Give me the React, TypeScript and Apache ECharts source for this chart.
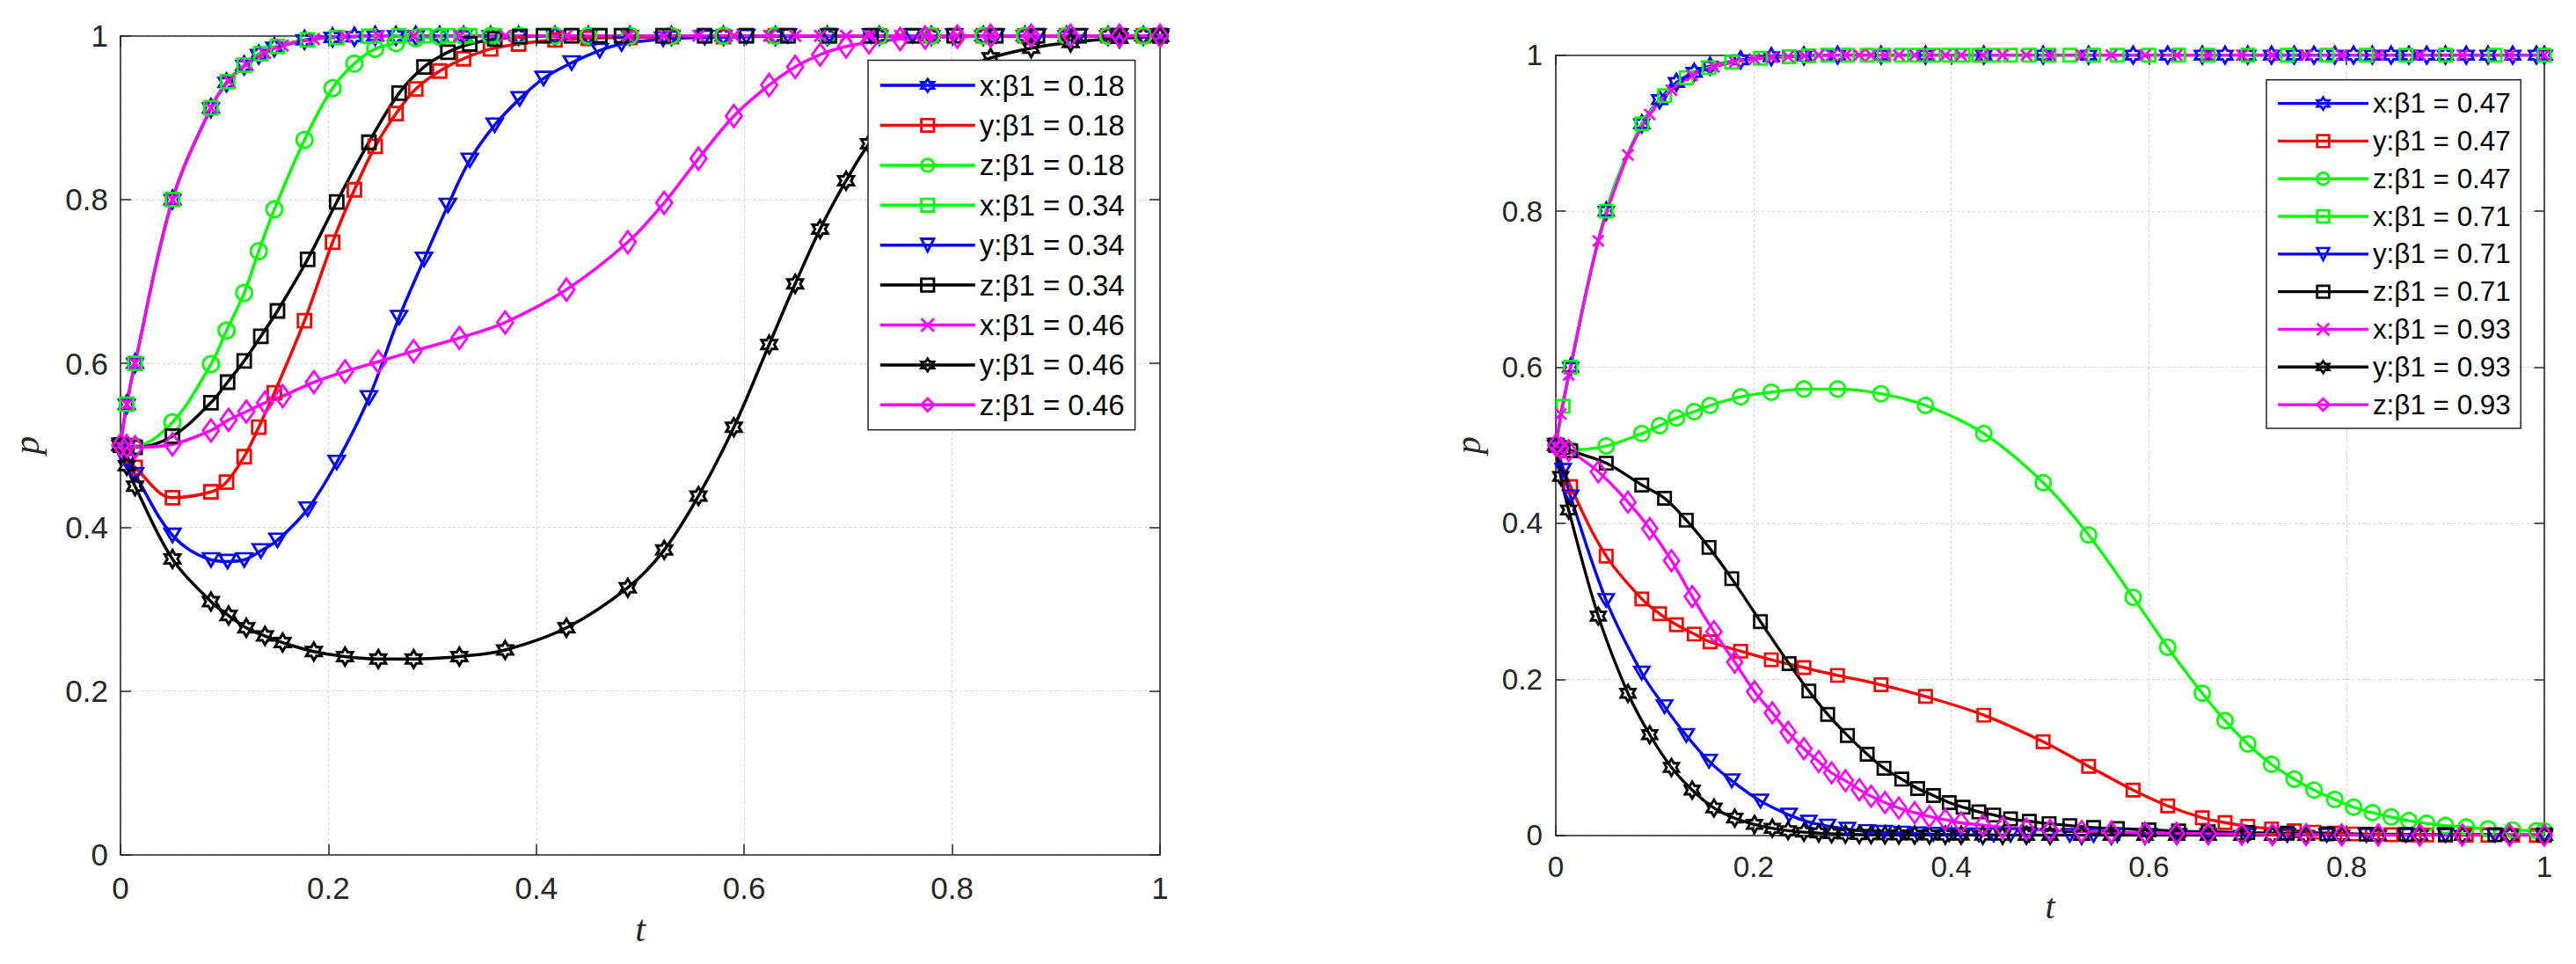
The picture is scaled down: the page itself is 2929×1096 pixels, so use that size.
import React, { useEffect, useRef } from "react";
import * as echarts from "echarts";

const t018 = [0, 0.006, 0.014, 0.05, 0.087, 0.102, 0.119, 0.133, 0.148, 0.177, 0.204, 0.225, 0.245, 0.265, 0.284, 0.307, 0.33, 0.356, 0.383, 0.418, 0.45, 0.49, 0.53, 0.58, 0.63, 0.68, 0.73, 0.78, 0.83, 0.87, 0.91, 0.95, 0.984, 1.0];
const x018 = [0.5, 0.55, 0.6, 0.8, 0.912, 0.943, 0.964, 0.977, 0.986, 0.995, 0.998, 0.999, 1, 1, 1, 1, 1, 1, 1, 1, 1, 1, 1, 1, 1, 1, 1, 1, 1, 1, 1, 1, 1, 1];
const y018 = [0.5, 0.487, 0.473, 0.436, 0.443, 0.455, 0.486, 0.522, 0.564, 0.652, 0.748, 0.812, 0.865, 0.905, 0.935, 0.957, 0.972, 0.984, 0.99, 0.995, 0.997, 0.998, 0.999, 0.999, 1, 1, 1, 1, 1, 1, 1, 1, 1, 1];
const z018 = [0.5, 0.499, 0.499, 0.528, 0.599, 0.64, 0.686, 0.737, 0.788, 0.873, 0.936, 0.966, 0.984, 0.991, 0.997, 0.999, 1, 1, 1, 1, 1, 1, 1, 1, 1, 1, 1, 1, 1, 1, 1, 1, 1, 1];

const t034 = [0, 0.006, 0.014, 0.05, 0.087, 0.103, 0.119, 0.135, 0.151, 0.18, 0.208, 0.239, 0.268, 0.292, 0.315, 0.336, 0.36, 0.384, 0.407, 0.434, 0.461, 0.482, 0.522, 0.562, 0.602, 0.642, 0.682, 0.722, 0.762, 0.802, 0.842, 0.882, 0.922, 0.961, 1.0];
const x034 = [0.5, 0.55, 0.6, 0.8, 0.912, 0.944, 0.964, 0.978, 0.987, 0.995, 0.998, 0.9995, 1, 1, 1, 1, 1, 1, 1, 1, 1, 1, 1, 1, 1, 1, 1, 1, 1, 1, 1, 1, 1, 1, 1];
const y034 = [0.5, 0.48, 0.464, 0.39, 0.36, 0.358, 0.36, 0.371, 0.384, 0.422, 0.479, 0.558, 0.656, 0.727, 0.793, 0.848, 0.891, 0.923, 0.948, 0.967, 0.982, 0.99, 0.996, 0.998, 0.999, 1, 1, 1, 1, 1, 1, 1, 1, 1, 1];
const z034 = [0.5, 0.499, 0.4975, 0.511, 0.552, 0.577, 0.603, 0.633, 0.664, 0.727, 0.797, 0.87, 0.93, 0.962, 0.98, 0.99, 0.996, 0.999, 1, 1, 1, 1, 1, 1, 1, 1, 1, 1, 1, 1, 1, 1, 1, 1, 1];

const t046 = [0, 0.006, 0.014, 0.05, 0.087, 0.104, 0.121, 0.139, 0.156, 0.186, 0.216, 0.248, 0.282, 0.326, 0.37, 0.429, 0.488, 0.523, 0.556, 0.59, 0.624, 0.649, 0.673, 0.698, 0.72, 0.75, 0.774, 0.805, 0.837, 0.876, 0.914, 0.961, 1.0];
const x046 = [0.5, 0.55, 0.6, 0.8, 0.912, 0.945, 0.965, 0.979, 0.988, 0.996, 0.999, 1, 1, 1, 1, 1, 1, 1, 1, 1, 1, 1, 1, 1, 1, 1, 1, 1, 1, 1, 1, 1, 1];
const y046 = [0.5, 0.475, 0.45, 0.361, 0.309, 0.292, 0.277, 0.267, 0.259, 0.248, 0.242, 0.239, 0.239, 0.242, 0.25, 0.277, 0.326, 0.372, 0.438, 0.522, 0.623, 0.697, 0.764, 0.823, 0.868, 0.91, 0.935, 0.956, 0.973, 0.985, 0.992, 0.997, 0.999];
const z046 = [0.5, 0.499, 0.4975, 0.501, 0.518, 0.531, 0.541, 0.552, 0.56, 0.577, 0.59, 0.602, 0.615, 0.631, 0.65, 0.69, 0.748, 0.796, 0.85, 0.902, 0.94, 0.962, 0.977, 0.987, 0.992, 0.996, 0.998, 0.999, 1, 1, 1, 1, 1];

// ---- right panel: beta1 = 0.47 / 0.71 / 0.93
const t047 = [0, 0.015, 0.051, 0.087, 0.105, 0.122, 0.14, 0.156, 0.187, 0.218, 0.251, 0.285, 0.329, 0.374, 0.433, 0.493, 0.539, 0.584, 0.619, 0.654, 0.677, 0.7, 0.724, 0.747, 0.767, 0.788, 0.807, 0.826, 0.845, 0.863, 0.881, 0.9, 0.921, 0.943, 0.968, 0.992, 1.0];
const x047 = [0.5, 0.6, 0.8, 0.912, 0.943, 0.965, 0.978, 0.986, 0.994, 0.998, 0.999, 1, 1, 1, 1, 1, 1, 1, 1, 1, 1, 1, 1, 1, 1, 1, 1, 1, 1, 1, 1, 1, 1, 1, 1, 1, 1];
const y047 = [0.5, 0.447, 0.358, 0.303, 0.284, 0.27, 0.258, 0.248, 0.236, 0.225, 0.215, 0.205, 0.193, 0.178, 0.154, 0.12, 0.0885, 0.058, 0.0377, 0.0225, 0.0163, 0.0116, 0.0082, 0.0059, 0.004, 0.0027, 0.0018, 0.0012, 0.0008, 0.0005, 0.0004, 0.0003, 0.0002, 0.0001, 0.0001, 0, 0];
const z047 = [0.5, 0.494, 0.499, 0.515, 0.525, 0.535, 0.543, 0.551, 0.562, 0.568, 0.572, 0.572, 0.566, 0.551, 0.515, 0.452, 0.385, 0.305, 0.241, 0.182, 0.147, 0.117, 0.091, 0.072, 0.058, 0.046, 0.036, 0.029, 0.0235, 0.0187, 0.0154, 0.0125, 0.0106, 0.0082, 0.0068, 0.0059, 0.0055];

const t071 = [0, 0.0074, 0.015, 0.051, 0.087, 0.11, 0.132, 0.155, 0.178, 0.207, 0.236, 0.256, 0.275, 0.295, 0.315, 0.332, 0.35, 0.366, 0.382, 0.398, 0.412, 0.428, 0.443, 0.46, 0.479, 0.499, 0.52, 0.544, 0.568, 0.6, 0.63, 0.66, 0.7, 0.74, 0.78, 0.82, 0.86, 0.9, 0.95, 1.0];
const x071 = [0.5, 0.55, 0.6, 0.8, 0.912, 0.948, 0.971, 0.984, 0.991, 0.996, 0.998, 0.999, 1, 1, 1, 1, 1, 1, 1, 1, 1, 1, 1, 1, 1, 1, 1, 1, 1, 1, 1, 1, 1, 1, 1, 1, 1, 1, 1, 1];
const y071 = [0.5, 0.468, 0.434, 0.301, 0.208, 0.165, 0.128, 0.095, 0.07, 0.044, 0.026, 0.017, 0.012, 0.008, 0.005, 0.004, 0.003, 0.002, 0.0015, 0.001, 0.0008, 0.0006, 0.0005, 0.0004, 0.0003, 0.0002, 0.0002, 0.0001, 0.0001, 0, 0, 0, 0, 0, 0, 0, 0, 0, 0, 0];
const z071 = [0.5, 0.497, 0.493, 0.477, 0.449, 0.432, 0.404, 0.369, 0.329, 0.274, 0.22, 0.185, 0.155, 0.128, 0.104, 0.086, 0.072, 0.06, 0.051, 0.042, 0.036, 0.03, 0.026, 0.021, 0.018, 0.015, 0.0125, 0.01, 0.0087, 0.007, 0.0055, 0.0045, 0.0035, 0.0027, 0.002, 0.0015, 0.0012, 0.001, 0.0008, 0.0006];

const t093 = [0, 0.005, 0.013, 0.043, 0.073, 0.095, 0.117, 0.138, 0.16, 0.181, 0.201, 0.219, 0.235, 0.251, 0.266, 0.279, 0.293, 0.307, 0.319, 0.333, 0.347, 0.363, 0.378, 0.394, 0.41, 0.432, 0.452, 0.476, 0.5, 0.532, 0.562, 0.596, 0.628, 0.66, 0.694, 0.725, 0.759, 0.795, 0.832, 0.874, 0.917, 0.965, 1.0];
const x093 = [0.5, 0.54, 0.59, 0.762, 0.872, 0.924, 0.955, 0.974, 0.985, 0.991, 0.995, 0.997, 0.998, 0.999, 1, 1, 1, 1, 1, 1, 1, 1, 1, 1, 1, 1, 1, 1, 1, 1, 1, 1, 1, 1, 1, 1, 1, 1, 1, 1, 1, 1, 1];
const y093 = [0.5, 0.46, 0.417, 0.281, 0.182, 0.129, 0.087, 0.058, 0.035, 0.022, 0.014, 0.009, 0.006, 0.004, 0.003, 0.002, 0.0015, 0.001, 0.0008, 0.0006, 0.0005, 0.0004, 0.0003, 0.0002, 0.0002, 0.0001, 0.0001, 0, 0, 0, 0, 0, 0, 0, 0, 0, 0, 0, 0, 0, 0, 0, 0];
const z093 = [0.5, 0.496, 0.493, 0.466, 0.427, 0.393, 0.352, 0.306, 0.261, 0.222, 0.184, 0.157, 0.132, 0.111, 0.0945, 0.08, 0.07, 0.0585, 0.05, 0.042, 0.035, 0.029, 0.024, 0.02, 0.016, 0.013, 0.01, 0.008, 0.0063, 0.005, 0.004, 0.003, 0.0025, 0.002, 0.0015, 0.001, 0.0008, 0.0006, 0.0005, 0.0004, 0.0003, 0.0002, 0.0002];

const axisTicks = [0, 0.2, 0.4, 0.6, 0.8, 1];

// matlab-ish markers
const hexagram = (() => {
  const pts: string[] = [];
  for (let k = 0; k < 12; k++) {
    const a = ((-90 + k * 30) * Math.PI) / 180;
    const r = k % 2 === 0 ? 1 : 0.5774;
    pts.push(`${(r * Math.cos(a)).toFixed(4)},${(r * Math.sin(a)).toFixed(4)}`);
  }
  return "path://M" + pts.join("L") + "Z";
})();
const cross = "path://M0,0L10,10M10,0L0,10";

type Marker = { symbol: string; size: number | number[]; rotate?: number; keep?: boolean; bw?: number };
const HEX: Marker = { symbol: hexagram, size: 20, keep: true, bw: 3 };
const SQ: Marker = { symbol: "rect", size: 15 };
const CIRC: Marker = { symbol: "circle", size: 18 };
const TRI: Marker = { symbol: "triangle", size: [18, 15], rotate: 180 };
const DIA: Marker = { symbol: "diamond", size: [18, 25] };
const XM: Marker = { symbol: cross, size: 13 };

const BLUE = "#0000ff";
const RED = "#ff0000";
const GREEN = "#00ff00";
const BLACK = "#000000";
const MAGENTA = "#ff00ff";
const AX = "#262626";

const makeLine = (name: string, t: number[], v: number[], color: string, mk: Marker, panel: number, s: number) => ({
  name,
  type: "line",
  xAxisIndex: panel * 2,
  yAxisIndex: panel * 2,
  data: t.map((x, i) => [x, v[i]]),
  smooth: 0.35,
  symbol: mk.symbol,
  symbolSize: Array.isArray(mk.size) ? mk.size.map((d) => d * s) : mk.size * s,
  symbolRotate: mk.rotate || 0,
  symbolKeepAspect: !!mk.keep,
  lineStyle: { color, width: 3.5 * s },
  itemStyle: { color: "transparent", borderColor: color, borderWidth: (mk.bw || 2.8) * s },
  emphasis: { disabled: true },
});

const leftSeries = [
  makeLine("x:β1 = 0.18", t018, x018, BLUE, HEX, 0, 1),
  makeLine("y:β1 = 0.18", t018, y018, RED, SQ, 0, 1),
  makeLine("z:β1 = 0.18", t018, z018, GREEN, CIRC, 0, 1),
  makeLine("x:β1 = 0.34", t034, x034, GREEN, SQ, 0, 1),
  makeLine("y:β1 = 0.34", t034, y034, BLUE, TRI, 0, 1),
  makeLine("z:β1 = 0.34", t034, z034, BLACK, SQ, 0, 1),
  makeLine("x:β1 = 0.46", t046, x046, MAGENTA, XM, 0, 1),
  makeLine("y:β1 = 0.46", t046, y046, BLACK, HEX, 0, 1),
  makeLine("z:β1 = 0.46", t046, z046, MAGENTA, DIA, 0, 1),
];
const R = 0.952;
const rightSeries = [
  makeLine("x:β1 = 0.47", t047, x047, BLUE, HEX, 1, R),
  makeLine("y:β1 = 0.47", t047, y047, RED, SQ, 1, R),
  makeLine("z:β1 = 0.47", t047, z047, GREEN, CIRC, 1, R),
  makeLine("x:β1 = 0.71", t071, x071, GREEN, SQ, 1, R),
  makeLine("y:β1 = 0.71", t071, y071, BLUE, TRI, 1, R),
  makeLine("z:β1 = 0.71", t071, z071, BLACK, SQ, 1, R),
  makeLine("x:β1 = 0.93", t093, x093, MAGENTA, XM, 1, R),
  makeLine("y:β1 = 0.93", t093, y093, BLACK, HEX, 1, R),
  makeLine("z:β1 = 0.93", t093, z093, MAGENTA, DIA, 1, R),
];

const tickStyle = (s: number) => ({ show: true, inside: true, length: 12 * s, lineStyle: { color: AX, width: 1.5 } });
const lineAx = { show: true, onZero: false, lineStyle: { color: AX, width: 1.6 } };
const gridLine = { show: true, lineStyle: { color: "#d2d2d2", width: 1.2, type: [3, 3] } };
const nameFont = (s: number) => ({ fontFamily: "Liberation Serif", fontStyle: "italic", fontSize: 42 * s, color: AX });
const labelFont = (s: number, margin: number) => ({
  show: true,
  margin,
  fontSize: 35 * s,
  color: AX,
  fontFamily: "Liberation Sans",
  customValues: axisTicks,
});

const buildAxes = (panel: number, s: number, xGap: number, yGap: number, xm: number, ym: number) => {
  const base = { type: "value", gridIndex: panel, min: 0, max: 1, interval: 0.2 };
  return {
    x: [
      {
        ...base,
        position: "bottom",
        axisLine: lineAx,
        axisTick: tickStyle(s),
        axisLabel: labelFont(s, xm),
        splitLine: gridLine,
        name: "t",
        nameLocation: "middle",
        nameGap: xGap,
        nameTextStyle: nameFont(s),
      },
      { ...base, position: "top", axisLine: lineAx, axisTick: tickStyle(s), axisLabel: { show: false }, splitLine: { show: false } },
    ],
    y: [
      {
        ...base,
        position: "left",
        axisLine: lineAx,
        axisTick: tickStyle(s),
        axisLabel: labelFont(s, ym),
        splitLine: gridLine,
        name: "p",
        nameLocation: "middle",
        nameRotate: 90,
        nameGap: yGap,
        nameTextStyle: nameFont(s),
      },
      { ...base, position: "right", axisLine: lineAx, axisTick: tickStyle(s), axisLabel: { show: false }, splitLine: { show: false } },
    ],
  };
};

const makeLegend = (names: string[], left: number, top: number, s: number) => ({
  data: names,
  orient: "vertical",
  left,
  top,
  padding: 12 * s,
  itemGap: 12.4 * s,
  itemWidth: 108 * s,
  itemHeight: 18 * s,
  backgroundColor: "#ffffff",
  borderColor: AX,
  borderWidth: 1.5,
  selectedMode: false,
  lineStyle: { width: 3.5 * s },
  itemStyle: { borderWidth: 2.8 * s },
  textStyle: { fontFamily: "Liberation Sans", fontSize: 33 * s, lineHeight: 32.5 * s, color: "#000000" },
});

const App: React.FC = () => {
  const chartRef = useRef<HTMLDivElement | null>(null);

  useEffect(() => {
    const dom = chartRef.current;
    if (!dom) return;
    const chart = echarts.init(dom, undefined, { renderer: "svg" });

    const a0 = buildAxes(0, 1, 63, 86, 20, 14);
    const a1 = buildAxes(1, R, 61, 80, 19, 15);

    chart.setOption({
      animation: false,
      backgroundColor: "#ffffff",
      grid: [
        { left: 137, top: 40.7, width: 1182, height: 931 },
        { left: 1769, top: 62.7, width: 1124, height: 887 },
      ],
      xAxis: [...a0.x, ...a1.x],
      yAxis: [...a0.y, ...a1.y],
      legend: [
        makeLegend(leftSeries.map((d) => d.name), 987, 68.6, 1),
        makeLegend(rightSeries.map((d) => d.name), 2577, 90.7, R),
      ],
      series: [...leftSeries, ...rightSeries],
    });

    return () => {
      chart.dispose();
    };
  }, []);

  return (
    <div
      ref={chartRef}
      style={{ position: "fixed", left: 0, top: 0, width: 2929, height: 1096, background: "#fff" }}
    />
  );
};

export default App;
